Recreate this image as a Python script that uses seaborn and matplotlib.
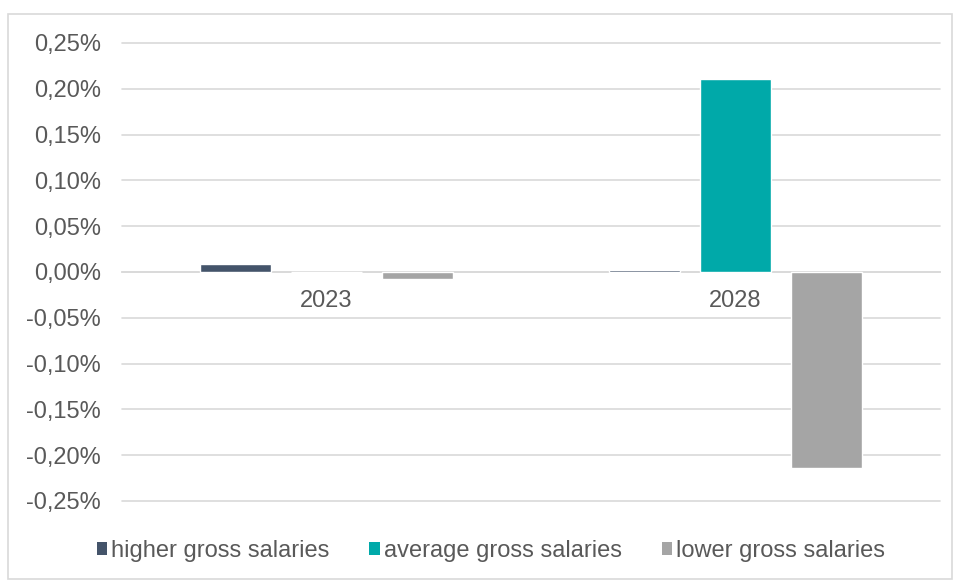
import matplotlib
matplotlib.use("Agg")
import matplotlib.pyplot as plt
import seaborn as sns
import pandas as pd
from matplotlib.patches import Patch, Rectangle
from matplotlib.ticker import FuncFormatter, MultipleLocator

# Change in salary groups, percent
years = ["2023", "2028"]
series = ["higher gross salaries", "average gross salaries", "lower gross salaries"]
higher = [0.009, 0.002]
average = [-0.0005, 0.211]
lower = [-0.008, -0.214]
colors = ["#44546A", "#00A9A9", "#A5A5A5"]

df = pd.DataFrame({
    "year": years * 3,
    "series": [s for s in series for _ in years],
    "value": higher + average + lower,
})

sns.set_theme(style="white")
plt.rcParams["font.family"] = ["Liberation Sans", "DejaVu Sans"]

text_color = "#595959"
grid_color = "#D9D9D9"
fs = 17

fig = plt.figure(figsize=(9.55, 5.82), dpi=100)
ax = fig.add_axes([122 / 955, 1 - 501 / 582, (940 - 122) / 955, 458 / 582])

sns.barplot(data=df, x="year", y="value", hue="series", hue_order=series,
            palette=colors, width=0.67, gap=0.22, saturation=1,
            ax=ax, legend=False, zorder=3)

ax.set_xlim(-0.5, 1.5)
ax.set_ylim(-0.25, 0.25)
ax.yaxis.set_major_locator(MultipleLocator(0.05))
ax.yaxis.set_major_formatter(FuncFormatter(lambda v, p: f"{v:.2f}%".replace(".", ",")))
ax.grid(axis="y", color=grid_color, linewidth=1.2, zorder=0)
for gl in ax.get_ygridlines():
    gl.set_clip_on(False)
ax.set_axisbelow(True)
for side in ("left", "right", "top"):
    ax.spines[side].set_visible(False)
ax.spines["bottom"].set_position(("data", 0))
ax.spines["bottom"].set_color(grid_color)
ax.spines["bottom"].set_linewidth(1.2)
ax.set_xlabel("")
ax.set_ylabel("")
ax.tick_params(axis="y", length=0, pad=15, labelsize=fs, labelcolor=text_color)
ax.tick_params(axis="x", length=0, pad=13, labelsize=fs, labelcolor=text_color)

handles = [Patch(facecolor=c, edgecolor="none", label=s) for c, s in zip(colors, series)]
fig.legend(handles=handles, loc="center", bbox_to_anchor=(0.514, 1 - 551 / 582),
           ncol=3, frameon=False, fontsize=fs, labelcolor=text_color,
           handlelength=0.45, handleheight=0.45, handletextpad=0.15,
           columnspacing=1.7)

fig.patches.append(Rectangle((8 / 955, 1 - 579 / 582), 944 / 955, 565 / 582,
                             transform=fig.transFigure, fill=False,
                             edgecolor=grid_color, linewidth=1.2))

fig.savefig("out.png", dpi=100)
